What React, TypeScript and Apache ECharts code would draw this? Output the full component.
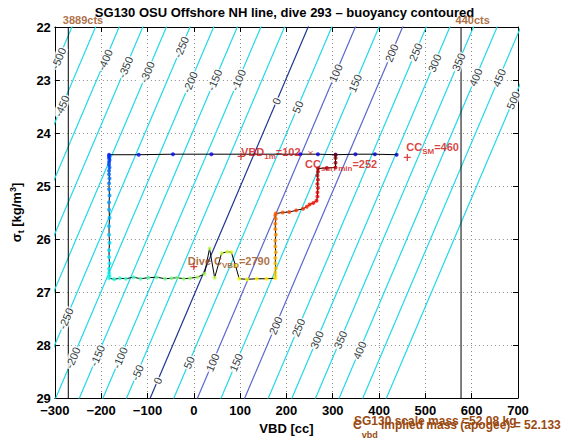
import React, { useEffect, useRef } from 'react';
import * as echarts from 'echarts';

const TITLE = 'SG130 OSU Offshore NH line, dive 293 \u2013 buoyancy contoured';
const FONT = '"Liberation Sans", Arial, Helvetica, sans-serif';
const BROWN = '#9a4a10';
const RED = '#d01010';
const CYAN = '#22d8e8';
const NAVY = '#1c3590';
const SLATE = '#5a66cc';

const X_MIN = -300;
const X_MAX = 700;
const X_STEP = 100;
const Y_MIN = 22;
const Y_MAX = 29;
const Y_STEP = 1;

// buoyancy contour levels [g]
const contourLevels = [-500, -450, -400, -350, -300, -250, -200, -150, -100, -50, 0, 50, 100, 150, 200, 250, 300, 350, 400, 450, 500];
// contour model: neutral VBD at sigma 29, cc per gram of buoyancy, cc per sigma unit
const NEUTRAL_VBD_29 = -94;
const CC_PER_GRAM = 1.02;
const CC_PER_SIGMA = -48.7;
const contourVBD = (level: number, sigma: number) => NEUTRAL_VBD_29 + CC_PER_GRAM * level + CC_PER_SIGMA * (sigma - 29);

// contour label placement (level, sigma)
const labelLevels = [-500, -450, -400, -350, -300, -250, -200, -150, -100, 0, 50, 100, 150, 200, 250, 300, 350, 400, 450, 500,
  -250, -200, -150, -100, -50, 0, 50, 100, 150, 200, 250, 300, 350, 400];
const labelSigmas = [22.59, 23.49, 22.62, 22.76, 22.85, 22.38, 23.04, 23.0, 23.0, 23.4, 23.51, 22.87, 23.06, 22.49, 22.47, 22.68, 22.66, 22.95, 22.96, 23.38,
  27.5, 28.24, 28.2, 28.24, 28.52, 28.67, 28.33, 28.33, 28.33, 27.63, 27.67, 27.9, 27.9, 28.1];

// VBD limits
const limitVBD = [-271, 577];
const limitText = ['3889cts', '440cts'];

// dive trajectory (VBD [cc], sigma_t)
const diveVBD = [
  438, 391, 349, 306, 268, 230, 38, -45, -119, -183,
  -183, -183, -182, -183, -183, -182, -183, -183, -182, -183, -183, -182, -183, -183, -182, -183, -183, -182, -183, -183, -182, -183, -183, -182, -183,
  -172, -160, -147, -130, -115, -98, -80, -62, -48, -36, -22, -8, 8, 23, 34, 45, 60, 72, 81, 90, 98, 115, 136, 157, 176,
  176, 176, 177, 176, 176, 177, 176, 176, 177, 176, 176, 177, 176, 177,
  192, 206, 221, 236, 244, 250, 258, 265,
  267, 267, 268, 267, 268, 267, 268, 268,
  287, 306, 306, 306, 306,
];
const diveSigma = [
  24.41, 24.4, 24.4, 24.41, 24.4, 24.4, 24.4, 24.4, 24.41, 24.41,
  24.44, 24.47, 24.51, 24.55, 24.6, 24.65, 24.71, 24.78, 24.86, 24.95, 25.06, 25.18, 25.31, 25.45, 25.6, 25.76, 25.92, 26.07, 26.21, 26.34, 26.46, 26.56, 26.64, 26.7, 26.74,
  26.76, 26.74, 26.75, 26.72, 26.75, 26.73, 26.72, 26.75, 26.74, 26.73, 26.75, 26.74, 26.72, 26.66, 26.18, 26.73, 26.27, 26.24, 26.25, 26.5, 26.75, 26.76, 26.75, 26.75, 26.74,
  26.7, 26.63, 26.55, 26.46, 26.36, 26.25, 26.14, 26.03, 25.92, 25.81, 25.71, 25.62, 25.55, 25.52,
  25.5, 25.49, 25.46, 25.43, 25.39, 25.35, 25.32, 25.28,
  25.2, 25.12, 25.04, 24.96, 24.88, 24.8, 24.73, 24.67,
  24.66, 24.65, 24.56, 24.47, 24.41,
];

// annotation markers
const plusVBD = [102, 461, 0];
const plusSigma = [24.44, 24.46, 26.52];
const crossVBD = [252];
const crossSigma = [24.38];

const JET = ['#00008f', '#0000ff', '#0080ff', '#00ffff', '#80ff80', '#ffff00', '#ff8000', '#ff0000', '#800000'];

const fmtNum = (v: number) => (v < 0 ? '\u2212' + Math.abs(v) : String(v));
const contourColor = (lvl: number) => (lvl === 0 ? NAVY : lvl === 100 || lvl === 200 ? SLATE : CYAN);

function buildOption() {
  const series: any[] = [];

  contourLevels.forEach((lvl) => {
    series.push({
      type: 'line',
      data: [[contourVBD(lvl, 21), 21], [contourVBD(lvl, 30), 30]],
      symbol: 'none',
      clip: true,
      silent: true,
      z: 1,
      lineStyle: { color: contourColor(lvl), width: 1.2 },
    });
  });

  series.push({
    type: 'scatter',
    silent: true,
    z: 2,
    symbol: 'circle',
    symbolSize: 1,
    itemStyle: { color: 'transparent' },
    data: labelLevels.map((l, i) => [contourVBD(l, labelSigmas[i]), labelSigmas[i], l]),
    label: {
      show: true,
      position: 'inside',
      formatter: (p: any) => String(p.value[2]),
      rotate: 67,
      fontSize: 11,
      fontFamily: FONT,
      color: '#000',
      backgroundColor: '#fff',
      padding: [0, 1],
    },
  });

  limitVBD.forEach((v) => {
    series.push({
      type: 'line',
      data: [[v, Y_MIN], [v, Y_MAX]],
      symbol: 'none',
      silent: true,
      z: 2,
      lineStyle: { color: '#000', width: 1 },
    });
  });

  series.push({
    type: 'scatter',
    silent: true,
    clip: false,
    z: 6,
    symbolSize: 1,
    itemStyle: { color: 'transparent' },
    data: limitVBD.map((v, i) => [v, Y_MIN, limitText[i]]),
    label: {
      show: true,
      position: 'right',
      distance: 0,
      offset: [-6, -7],
      formatter: (p: any) => p.value[2],
      fontSize: 11,
      fontWeight: 'bold',
      fontFamily: FONT,
      color: BROWN,
    },
  });

  series.push({
    type: 'line',
    data: diveVBD.map((v, i) => [v, diveSigma[i]]),
    symbol: 'none',
    silent: true,
    z: 3,
    lineStyle: { color: '#000', width: 1 },
  });

  const diveScatterIndex = series.length;
  series.push({
    type: 'scatter',
    silent: true,
    z: 4,
    symbolSize: 4,
    data: diveVBD.map((v, i) => [v, diveSigma[i], i]),
  });

  const sub = (c: string, size = 8) => ({ fontSize: size, fontWeight: 'bold', fontFamily: FONT, color: c, padding: [9, 0, 0, 0] });
  const main = (c: string, size = 11) => ({ fontSize: size, fontWeight: 'bold', fontFamily: FONT, color: c });

  const plusLabels = [
    { text: '{m|VBD}{s|1m}{m|=102}', color: RED, offset: [-6, -4] },
    { text: '{m|CC}{s|SM}{m|=460}', color: RED, offset: [-7, -10] },
    { text: '{m|Dive C}{s|VBD}{m|=2790}', color: BROWN, offset: [-12, -6] },
  ];

  series.push({
    type: 'scatter',
    silent: true,
    z: 5,
    symbol: 'path://M5 0L5 10M0 5L10 5',
    symbolSize: 7,
    itemStyle: { color: 'none', borderColor: RED, borderWidth: 1.3 },
    data: plusVBD.map((v, i) => ({
      value: [v, plusSigma[i]],
      label: {
        show: true,
        position: 'right',
        distance: 0,
        offset: plusLabels[i].offset,
        formatter: plusLabels[i].text,
        rich: { m: main(plusLabels[i].color), s: sub(plusLabels[i].color) },
      },
    })),
  });

  series.push({
    type: 'scatter',
    silent: true,
    z: 5,
    symbol: 'path://M0 0L10 10M10 0L0 10',
    symbolSize: 4,
    itemStyle: { color: 'none', borderColor: RED, borderWidth: 1 },
    data: crossVBD.map((v, i) => ({
      value: [v, crossSigma[i]],
      label: {
        show: true,
        position: 'right',
        distance: 0,
        offset: [-10, 11],
        formatter: '{m|CC}{s|surf min}{m|=252}',
        rich: { m: main(RED), s: sub(RED) },
      },
    })),
  });

  const axisCommon = {
    axisLine: { show: true, onZero: false, lineStyle: { color: '#000', width: 1 } },
    axisTick: { show: true, inside: true, length: 5, lineStyle: { color: '#000' } },
  };

  return {
    animation: false,
    backgroundColor: '#fff',
    title: {
      text: TITLE,
      left: 'center',
      top: 1,
      textStyle: { fontSize: 13, fontWeight: 'bold', fontFamily: FONT, color: '#000' },
    },
    grid: { left: 48, right: 51, top: 27, bottom: 44, containLabel: false },
    xAxis: [
      {
        type: 'value',
        min: X_MIN,
        max: X_MAX,
        interval: X_STEP,
        position: 'bottom',
        ...axisCommon,
        axisLabel: { formatter: fmtNum, fontSize: 13, fontWeight: 'bold', fontFamily: FONT, color: '#000', margin: 6 },
        splitLine: { show: true, lineStyle: { color: '#8c8c8c', type: [1, 3], width: 1 } },
        name: 'VBD [cc]',
        nameLocation: 'middle',
        nameGap: 19,
        nameTextStyle: { fontSize: 13, fontWeight: 'bold', fontFamily: FONT, color: '#000' },
      },
      {
        type: 'value',
        min: X_MIN,
        max: X_MAX,
        interval: X_STEP,
        position: 'top',
        ...axisCommon,
        axisLabel: { show: false },
        splitLine: { show: false },
      },
    ],
    yAxis: [
      {
        type: 'value',
        min: Y_MIN,
        max: Y_MAX,
        interval: Y_STEP,
        inverse: true,
        position: 'left',
        ...axisCommon,
        axisLabel: { fontSize: 13, fontWeight: 'bold', fontFamily: FONT, color: '#000', margin: 4 },
        splitLine: { show: true, lineStyle: { color: '#8c8c8c', type: [1, 3], width: 1 } },
        name: '{a|\u03c3}{s|t}{a| [kg/m}{p|3}{a|]}',
        nameLocation: 'middle',
        nameRotate: 90,
        nameGap: 24,
        nameTextStyle: {
          fontSize: 13,
          fontWeight: 'bold',
          fontFamily: FONT,
          color: '#000',
          rich: {
            a: { fontSize: 13, fontWeight: 'bold', fontFamily: FONT, color: '#000' },
            s: { fontSize: 9, fontWeight: 'bold', fontFamily: FONT, color: '#000', padding: [9, 0, 0, 0] },
            p: { fontSize: 9, fontWeight: 'bold', fontFamily: FONT, color: '#000', padding: [0, 0, 8, 0] },
          },
        },
      },
      {
        type: 'value',
        min: Y_MIN,
        max: Y_MAX,
        interval: Y_STEP,
        inverse: true,
        position: 'right',
        ...axisCommon,
        axisLabel: { show: false },
        splitLine: { show: false },
      },
    ],
    visualMap: {
      type: 'continuous',
      show: false,
      dimension: 2,
      min: -6,
      max: diveVBD.length - 1,
      seriesIndex: [diveScatterIndex],
      inRange: { color: JET },
    },
    graphic: [
      {
        type: 'text',
        left: 354,
        top: 415,
        silent: true,
        style: { text: 'SG130 scale mass =52.08 kg', font: 'bold 12px ' + FONT, fill: BROWN },
      },
      {
        type: 'text',
        left: 353,
        top: 419,
        silent: true,
        style: {
          text: '{m|C}{s|vbd}{m| implied mass (apogee) = 52.133}',
          rich: {
            m: { fontSize: 12, fontWeight: 'bold', fontFamily: FONT, fill: BROWN, verticalAlign: 'top' },
            s: { fontSize: 9, fontWeight: 'bold', fontFamily: FONT, fill: BROWN, padding: [11, 0, 0, 0] },
          },
        },
      },
    ],
    series,
  };
}

export default function App() {
  const ref = useRef<HTMLDivElement>(null);
  useEffect(() => {
    const chart = echarts.init(ref.current as HTMLDivElement, null, { renderer: 'svg' });
    chart.setOption(buildOption() as any);
    return () => chart.dispose();
  }, []);
  return (
    <div
      ref={ref}
      style={{ position: 'fixed', left: 0, top: 0, width: 569, height: 442, background: '#fff' }}
    />
  );
}
